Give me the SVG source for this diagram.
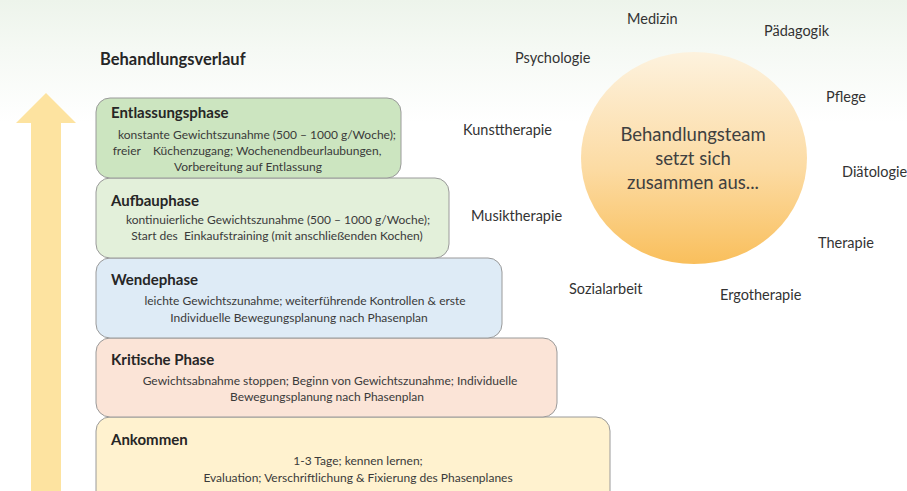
<svg xmlns="http://www.w3.org/2000/svg" width="907" height="491" viewBox="0 0 907 491">
<defs>
<linearGradient id="bg" x1="0" y1="0" x2="0" y2="1">
<stop offset="0" stop-color="#edf4eb"/>
<stop offset="0.1" stop-color="#f5f9f4"/>
<stop offset="0.25" stop-color="#ffffff"/>
<stop offset="1" stop-color="#ffffff"/>
</linearGradient>
<linearGradient id="circ" x1="0" y1="0" x2="0" y2="1">
<stop offset="0" stop-color="#fdf2de"/>
<stop offset="0.55" stop-color="#fcdba3"/>
<stop offset="1" stop-color="#f9bf5c"/>
</linearGradient>
<style>
.box{stroke:#9a9a9a;stroke-width:1}
.t{font-family:Lato,"Open Sans","Liberation Sans",sans-serif;font-weight:bold;font-size:15px;fill:#262626}
.b{font-family:Lato,"Open Sans","Liberation Sans",sans-serif;font-size:12px;fill:#3a3a3a;text-anchor:middle}
.l{font-family:Lato,"Open Sans","Liberation Sans",sans-serif;font-size:14.5px;fill:#333333}
.c{font-family:Lato,"Open Sans","Liberation Sans",sans-serif;font-size:18.5px;fill:#404040;text-anchor:middle}
</style>
</defs>
<rect width="907" height="491" fill="url(#bg)"/>
<polygon id="arrow" points="46,93 76,123 61,123 61,495 31,495 31,123 16,123" fill="#fde3a0"/>
<text x="100" y="65" class="t" style="font-size:16.5px">Behandlungsverlauf</text>

<g id="ankommen">
<rect class="box" x="96" y="417" width="514" height="90" rx="14" fill="#fff2cf"/>
<text x="111" y="445" class="t">Ankommen</text>
<text x="358" y="465" class="b">1-3 Tage; kennen lernen;</text>
<text x="358" y="482" class="b">Evaluation; Verschriftlichung &amp; Fixierung des Phasenplanes</text>
</g>
<g id="kritisch">
<rect class="box" x="96" y="338" width="461" height="79" rx="14" fill="#fbe4d7"/>
<text x="111" y="365" class="t">Kritische Phase</text>
<text x="330" y="385" class="b">Gewichtsabnahme stoppen; Beginn von Gewichtszunahme; Individuelle</text>
<text x="327" y="401" class="b">Bewegungsplanung nach Phasenplan</text>
</g>
<g id="wende">
<rect class="box" x="96" y="258" width="406" height="80" rx="14" fill="#deebf6"/>
<text x="111" y="285" class="t">Wendephase</text>
<text x="305" y="305" class="b">leichte Gewichtszunahme; weiterführende Kontrollen &amp; erste</text>
<text x="299" y="322" class="b">Individuelle Bewegungsplanung nach Phasenplan</text>
</g>
<g id="aufbau">
<rect class="box" x="96" y="178" width="353" height="80" rx="14" fill="#e3f0da"/>
<text x="111" y="206" class="t">Aufbauphase</text>
<text x="278" y="224" class="b">kontinuierliche Gewichtszunahme (500 – 1000 g/Woche);</text>
<text x="277" y="240" class="b" xml:space="preserve">Start des  Einkaufstraining (mit anschließenden Kochen)</text>
</g>
<g id="entlassung">
<rect class="box" x="96" y="98" width="305" height="80" rx="14" fill="#cce5c0"/>
<text x="111" y="118" class="t">Entlassungsphase</text>
<text x="257" y="139" class="b">konstante Gewichtszunahme (500 – 1000 g/Woche);</text>
<text x="247" y="155" class="b" xml:space="preserve">freier    Küchenzugang; Wochenendbeurlaubungen,</text>
<text x="248" y="171" class="b">Vorbereitung auf Entlassung</text>
</g>

<g id="team">
<ellipse cx="694" cy="158" rx="113" ry="106" fill="url(#circ)"/>
<text x="693" y="141" class="c">Behandlungsteam</text>
<text x="693" y="165" class="c">setzt sich</text>
<text x="693" y="189" class="c">zusammen aus...</text>
</g>
<g id="labels">
<text x="627" y="24" class="l">Medizin</text>
<text x="764" y="36" class="l">Pädagogik</text>
<text x="515" y="63" class="l">Psychologie</text>
<text x="826" y="102" class="l">Pflege</text>
<text x="463" y="135" class="l">Kunsttherapie</text>
<text x="842" y="177" class="l">Diätologie</text>
<text x="471" y="221" class="l">Musiktherapie</text>
<text x="818" y="248" class="l">Therapie</text>
<text x="569" y="294" class="l">Sozialarbeit</text>
<text x="720" y="300" class="l">Ergotherapie</text>
</g>
</svg>
